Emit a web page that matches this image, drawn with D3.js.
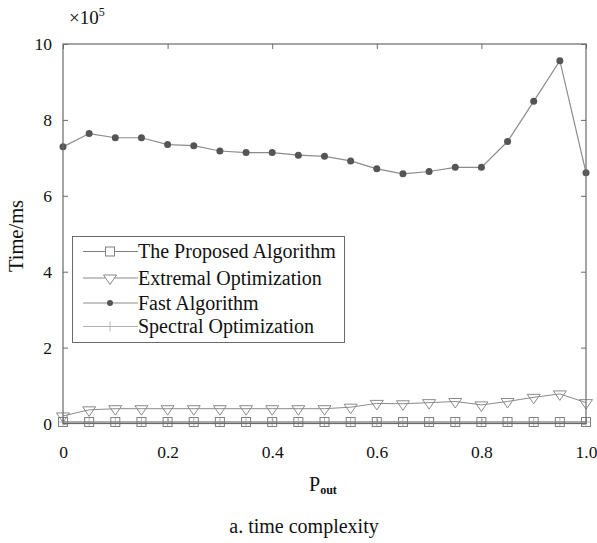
<!DOCTYPE html>
<html><head><meta charset="utf-8">
<script src="https://cdn.jsdelivr.net/npm/d3@7"></script>
<style>body{margin:0;background:#fff}svg{display:block}text{font-family:"Liberation Serif","Times New Roman",serif;fill:#111}</style>
</head><body><svg id="c" width="597" height="543"></svg>
<script>
const pOut = [0,0.05,0.1,0.15,0.2,0.25,0.3,0.35,0.4,0.45,0.5,0.55,0.6,0.65,0.7,0.75,0.8,0.85,0.9,0.95,1.0];
const proposed = [0.04,0.04,0.04,0.04,0.04,0.04,0.04,0.04,0.04,0.04,0.04,0.04,0.04,0.04,0.04,0.04,0.04,0.04,0.04,0.04,0.04];
const extremal = [0.20,0.36,0.39,0.39,0.39,0.39,0.39,0.39,0.39,0.39,0.39,0.43,0.53,0.52,0.55,0.58,0.49,0.58,0.69,0.78,0.55];
const fast = [7.29,7.64,7.53,7.53,7.35,7.32,7.18,7.14,7.14,7.07,7.04,6.92,6.71,6.58,6.64,6.75,6.75,7.43,8.49,9.56,6.61];
const spectral = [0.04,0.04,0.04,0.04,0.04,0.04,0.04,0.04,0.04,0.04,0.04,0.04,0.04,0.04,0.04,0.04,0.04,0.04,0.04,0.04,0.04];
const xTicks = [0,0.2,0.4,0.6,0.8,1.0];
const xTickLabels = ["0","0.2","0.4","0.6","0.8","1.0"];
const yTicks = [0,2,4,6,8,10];
const legendNames = ["The Proposed Algorithm","Extremal Optimization","Fast Algorithm","Spectral Optimization"];

const svg = d3.select("#c");
const L=63,R=586,T=44,B=423.5;
const x = d3.scaleLinear().domain([0,1]).range([L,R]);
const y = d3.scaleLinear().domain([0,10]).range([B,T]);
const boxCol="#6a6a6a";
const tickFs = 17.5;

const g = svg.append("g");
g.append("g").attr("transform",`translate(0,${B})`)
 .call(d3.axisBottom(x).tickValues(xTicks).tickFormat((d,i)=>xTickLabels[i]).tickSize(-5).tickPadding(22))
 .call(a=>{a.select(".domain").remove();a.selectAll("line").attr("stroke",boxCol);a.selectAll("text").attr("font-size",tickFs).attr("font-family","Liberation Serif").attr("fill","#111");});
g.append("g").attr("transform",`translate(0,${T})`)
 .call(d3.axisTop(x).tickValues(xTicks).tickFormat("").tickSize(-5))
 .call(a=>{a.select(".domain").remove();a.selectAll("line").attr("stroke",boxCol);});
g.append("g").attr("transform",`translate(${L},0)`)
 .call(d3.axisLeft(y).tickValues(yTicks).tickSize(-5).tickPadding(11))
 .call(a=>{a.select(".domain").remove();a.selectAll("line").attr("stroke",boxCol);a.selectAll("text").attr("font-size",tickFs).attr("font-family","Liberation Serif").attr("fill","#111");});
g.append("g").attr("transform",`translate(${R},0)`)
 .call(d3.axisRight(y).tickValues(yTicks).tickFormat("").tickSize(-5))
 .call(a=>{a.select(".domain").remove();a.selectAll("line").attr("stroke",boxCol);});

const idx = d3.range(pOut.length);
const line = arr => d3.line().x(i=>x(pOut[i])).y(i=>y(arr[i]))(idx);

const spectralCol="#b4b4b4", propCol="#808080", extCol="#8a8a8a", fastLine="#8c8c8c", fastDot="#555";

svg.append("path").attr("d",line(spectral)).attr("fill","none").attr("stroke",spectralCol).attr("stroke-width",1);
svg.append("g").selectAll("path").data(idx).join("path")
  .attr("d",i=>{const cx=x(pOut[i]),cy=y(spectral[i]);return `M${cx-5},${cy}H${cx+5}M${cx},${cy-5}V${cy+5}`;})
  .attr("stroke",spectralCol).attr("fill","none");
svg.append("path").attr("d",line(proposed)).attr("fill","none").attr("stroke",propCol).attr("stroke-width",1.2);
svg.append("g").selectAll("rect").data(idx).join("rect")
  .attr("x",i=>x(pOut[i])-4.5).attr("y",i=>y(proposed[i])-4.5).attr("width",9).attr("height",9)
  .attr("fill","none").attr("stroke",propCol);
const tri = (cx,cy)=>`M${cx-6.5},${cy-3}L${cx+6.5},${cy-3}L${cx},${cy+6.5}Z`;
svg.append("path").attr("d",line(extremal)).attr("fill","none").attr("stroke",extCol).attr("stroke-width",1);
svg.append("g").selectAll("path").data(idx).join("path")
  .attr("d",i=>tri(x(pOut[i]),y(extremal[i]))).attr("fill","none").attr("stroke",extCol);
svg.append("path").attr("d",line(fast)).attr("fill","none").attr("stroke",fastLine).attr("stroke-width",1.2);
svg.append("g").selectAll("circle").data(idx).join("circle")
  .attr("cx",i=>x(pOut[i])).attr("cy",i=>y(fast[i])).attr("r",3.5).attr("fill",fastDot);

svg.append("rect").attr("x",L).attr("y",T).attr("width",R-L).attr("height",B-T)
  .attr("fill","none").attr("stroke",boxCol).attr("stroke-width",1.2);

const ex = svg.append("text").attr("x",69).attr("y",24).attr("font-size",19);
ex.append("tspan").text("×10");
ex.append("tspan").attr("font-size",12).attr("dy",-8).text("5");

svg.append("text").attr("transform","translate(23,236) rotate(-90)").attr("text-anchor","middle").attr("font-size",20.5).text("Time/ms");
const xl = svg.append("text").attr("x",309).attr("y",491).attr("font-size",20);
xl.append("tspan").text("P");
xl.append("tspan").attr("font-size",12).attr("dy",3).attr("font-weight","bold").text("out");
svg.append("text").attr("x",304).attr("y",533).attr("text-anchor","middle").attr("font-size",20).text("a. time complexity");

const lg = svg.append("g");
lg.append("rect").attr("x",72.5).attr("y",236.5).attr("width",272).attr("height",106).attr("fill","#fff").attr("stroke",boxCol);
const rowsY=[251.5,278,303,326.5];
const cols=[propCol,extCol,fastLine,spectralCol];
legendNames.forEach((n,k)=>{
  const ry=rowsY[k];
  lg.append("line").attr("x1",83).attr("x2",138).attr("y1",ry).attr("y2",ry).attr("stroke",cols[k]);
  const mx=110;
  if(k===0) lg.append("rect").attr("x",mx-4.5).attr("y",ry-4.5).attr("width",9).attr("height",9).attr("fill","#fff").attr("stroke",propCol);
  if(k===1) lg.append("path").attr("d",tri(mx,ry)).attr("fill","#fff").attr("stroke",extCol);
  if(k===2) lg.append("circle").attr("cx",mx).attr("cy",ry).attr("r",3).attr("fill",fastDot);
  if(k===3) lg.append("path").attr("d",`M${mx},${ry-5}V${ry+5}`).attr("stroke",spectralCol);
  lg.append("text").attr("x",138).attr("y",ry+6.5).attr("font-size",20).text(n);
});
</script></body></html>
